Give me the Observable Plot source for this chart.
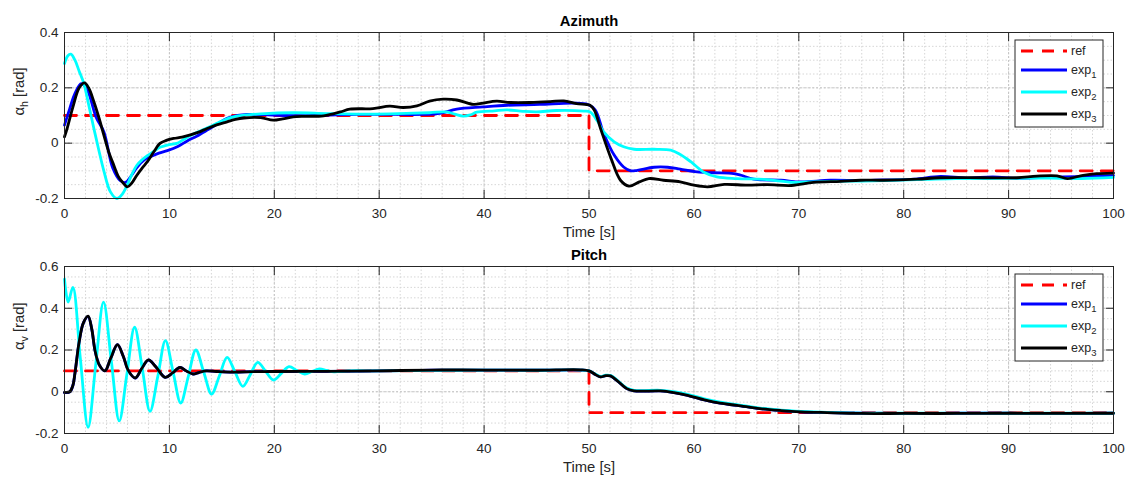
<!DOCTYPE html>
<html><head><meta charset="utf-8">
<script src="https://cdn.jsdelivr.net/npm/d3@7"></script>
<script src="https://cdn.jsdelivr.net/npm/@observablehq/plot@0.6"></script>
<style>
body{margin:0;background:#fff;}
#chart{width:1132px;height:480px;}
#chart svg{display:block;}
</style></head><body><div id="chart"></div>
<script>
// ---------- tick labels / categories ----------
const timeTicks = [0, 10, 20, 30, 40, 50, 60, 70, 80, 90, 100];
const azTicks = [-0.2, 0, 0.2, 0.4];
const pitchTicks = [-0.2, 0, 0.2, 0.4, 0.6];
const seriesNames = ["ref", "exp1", "exp2", "exp3"];
const seriesColors = ["#ff0000", "#0000ff", "#00ffff", "#000000"];

// ---------- Azimuth ----------
const azRef = [[0,0.1],[50,0.1],[50,-0.1],[100,-0.1]];
const azExp1 = [[0,0.065],[0.5,0.125],[1.0,0.18],[1.6,0.215],[2.2,0.19],[3.0,0.095],[3.75,0.041],[4.6,-0.09],[5.3,-0.135],[5.8,-0.142],[6.4,-0.116],[6.9,-0.088],[7.6,-0.06],[8.2,-0.049],[9.0,-0.036],[9.8,-0.027],[10.8,-0.012],[11.7,0.008],[12.6,0.025],[13.6,0.047],[14.6,0.07],[15.5,0.09],[16.5,0.1],[17.4,0.104],[19,0.103],[21,0.1],[24,0.1],[27.9,0.104],[31,0.104],[34.2,0.104],[35.8,0.108],[37.4,0.123],[39.9,0.131],[42.2,0.137],[45.3,0.14],[48.5,0.145],[49.9,0.14],[50.6,0.12],[51.4,0.035],[52.4,-0.043],[53.3,-0.086],[54.0,-0.1],[54.6,-0.098],[56.2,-0.087],[57.5,-0.087],[58.7,-0.094],[60.3,-0.104],[61.9,-0.107],[63.8,-0.11],[64.5,-0.116],[65.7,-0.13],[68.3,-0.134],[70.2,-0.14],[73,-0.134],[75.9,-0.135],[78,-0.133],[81,-0.13],[83.5,-0.12],[86,-0.126],[88.5,-0.122],[91,-0.127],[94,-0.123],[97,-0.12],[100,-0.117]];
const azExp2 = [[0,0.288],[0.3,0.315],[0.6,0.322],[1.0,0.3],[1.4,0.26],[1.84,0.216],[2.3,0.14],[2.8,0.053],[3.3,-0.03],[3.75,-0.1],[4.38,-0.176],[5.0,-0.2],[5.5,-0.185],[5.97,-0.152],[6.4,-0.115],[6.9,-0.08],[7.4,-0.06],[7.9,-0.045],[8.5,-0.03],[9.1,-0.015],[10,-0.005],[10.7,-0.001],[11.3,0.012],[12,0.028],[13,0.045],[13.9,0.06],[14.7,0.075],[15.5,0.088],[16.3,0.097],[17.1,0.101],[18.7,0.106],[21.8,0.11],[25,0.107],[28,0.105],[31,0.106],[34.8,0.11],[36.4,0.113],[37.2,0.105],[38,0.098],[38.7,0.102],[39.3,0.112],[41,0.117],[42.2,0.12],[43.7,0.115],[45,0.113],[46.9,0.118],[49.5,0.116],[50.1,0.113],[50.8,0.08],[51.4,0.041],[52.4,0.005],[53.3,-0.013],[54.3,-0.022],[56.2,-0.022],[57.8,-0.025],[58.7,-0.041],[59.7,-0.067],[61,-0.106],[62.2,-0.122],[64.1,-0.128],[66.7,-0.131],[69.5,-0.142],[71,-0.14],[73,-0.138],[76,-0.137],[79,-0.134],[82,-0.131],[85,-0.128],[88,-0.128],[91,-0.127],[94,-0.126],[97,-0.128],[100,-0.124]];
const azExp3 = [[0,0.023],[0.25,0.053],[0.8,0.13],[1.4,0.2],[1.9,0.218],[2.3,0.2],[2.8,0.15],[3.3,0.09],[3.75,0.029],[4.2,-0.03],[4.7,-0.08],[5.1,-0.118],[5.5,-0.14],[6.0,-0.158],[6.4,-0.145],[6.9,-0.116],[7.4,-0.09],[7.9,-0.067],[8.5,-0.032],[9.1,-0.001],[9.7,0.01],[10.4,0.017],[11.2,0.022],[12,0.03],[12.8,0.04],[13.6,0.053],[14.5,0.066],[15.5,0.077],[16.3,0.086],[17.1,0.091],[18.7,0.092],[19.9,0.083],[20.8,0.088],[21.8,0.095],[23,0.097],[24.7,0.099],[26.3,0.113],[27.2,0.123],[29.4,0.125],[31,0.134],[32.3,0.129],[33.6,0.135],[34.8,0.152],[36.1,0.159],[37.4,0.156],[39,0.14],[39.9,0.145],[41.2,0.152],[42.5,0.147],[44.4,0.147],[46.3,0.15],[47.6,0.153],[48.8,0.143],[50.1,0.137],[50.5,0.12],[51.1,0.053],[52.1,-0.055],[53,-0.134],[53.8,-0.155],[54.8,-0.14],[55.7,-0.128],[57.1,-0.134],[58.7,-0.14],[60,-0.152],[61.3,-0.158],[62.9,-0.149],[65.1,-0.152],[67,-0.15],[69.3,-0.153],[71.4,-0.142],[74,-0.138],[75.9,-0.134],[78.1,-0.134],[81.3,-0.13],[83.5,-0.125],[87.6,-0.125],[90.8,-0.125],[92.7,-0.119],[94.6,-0.118],[95.6,-0.128],[97.1,-0.116],[98.4,-0.11],[100,-0.108]];

// ---------- Pitch ----------
const pitchRef = [[0,0.1],[50,0.1],[50,-0.1],[100,-0.1]];
const pitchExp1 = [[0,-0.004],[0.5,-0.001],[0.8,0.03],[1.0,0.09],[1.4,0.24],[1.8,0.33],[2.25,0.36],[2.6,0.3],[2.9,0.2],[3.3,0.13],[3.85,0.1],[4.4,0.16],[5.05,0.226],[5.6,0.17],[6.1,0.1],[6.75,0.065],[7.35,0.11],[8.0,0.152],[8.7,0.12],[9.6,0.069],[10.3,0.09],[11.0,0.117],[11.6,0.1],[12.25,0.085],[12.8,0.092],[13.5,0.1],[14.5,0.097],[16,0.094],[18,0.096],[20,0.097],[25,0.098],[30,0.1],[35,0.103],[40,0.104],[45,0.103],[49.2,0.104],[50,0.1],[50.6,0.083],[51.1,0.071],[51.6,0.077],[52.05,0.076],[52.7,0.052],[53.6,0.015],[54.3,0.004],[56.8,0.004],[58.1,-0.004],[59.4,-0.017],[61,-0.039],[62.5,-0.055],[64.1,-0.065],[66.3,-0.081],[68.3,-0.09],[70.2,-0.096],[72.7,-0.1],[75.9,-0.103],[80,-0.104],[85,-0.103],[90,-0.103],[95,-0.104],[100,-0.103]];
const pitchExp2 = [[0,0.54],[0.35,0.43],[0.8,0.5],[1.5,0.165],[2.25,-0.17],[2.98,0.13],[3.72,0.429],[4.47,0.145],[5.22,-0.14],[5.95,0.085],[6.68,0.309],[7.42,0.11],[8.15,-0.094],[8.9,0.075],[9.62,0.245],[10.35,0.095],[11.08,-0.054],[11.8,0.073],[12.52,0.2],[13.27,0.095],[14.02,-0.011],[14.77,0.077],[15.5,0.165],[16.25,0.095],[17.0,0.026],[17.72,0.083],[18.42,0.141],[19.17,0.098],[19.92,0.056],[20.67,0.088],[21.4,0.12],[22.15,0.102],[22.9,0.085],[23.6,0.097],[24.3,0.109],[25,0.102],[25.7,0.095],[27,0.1],[30,0.1],[35,0.102],[40,0.104],[45,0.103],[49.2,0.104],[50,0.1],[50.6,0.085],[51.1,0.073],[51.6,0.079],[52.1,0.077],[52.7,0.055],[53.6,0.018],[54.3,0.007],[56.8,0.007],[58.1,0.0],[59.4,-0.012],[61,-0.034],[62.5,-0.05],[64.1,-0.062],[66.3,-0.078],[68.3,-0.088],[70.2,-0.094],[72.7,-0.099],[76,-0.102],[80,-0.103],[85,-0.102],[90,-0.103],[95,-0.103],[100,-0.103]];
const pitchExp3 = [[0,-0.003],[0.5,0.0],[0.8,0.03],[1.0,0.09],[1.4,0.24],[1.8,0.33],[2.25,0.362],[2.6,0.3],[2.9,0.2],[3.3,0.13],[3.85,0.1],[4.4,0.16],[5.05,0.226],[5.6,0.17],[6.1,0.1],[6.75,0.066],[7.35,0.11],[8.0,0.153],[8.7,0.12],[9.6,0.069],[10.3,0.09],[11.0,0.117],[11.6,0.1],[12.25,0.085],[12.8,0.092],[13.5,0.1],[14.5,0.097],[16,0.094],[18,0.096],[20,0.097],[25,0.098],[30,0.1],[35,0.104],[40,0.104],[45,0.103],[49.2,0.105],[50,0.1],[50.6,0.083],[51.1,0.071],[51.6,0.077],[52.05,0.076],[52.7,0.052],[53.6,0.015],[54.3,0.004],[56.8,0.004],[58.1,-0.004],[59.4,-0.017],[61,-0.039],[62.5,-0.055],[64.1,-0.065],[66.3,-0.081],[68.3,-0.09],[70.2,-0.096],[72.7,-0.1],[75.9,-0.104],[80,-0.104],[85,-0.104],[90,-0.103],[95,-0.104],[100,-0.103]];

const FONT = "'Liberation Sans', Arial, Helvetica, sans-serif";
const AXC = "#262626";

function panel({title, ylab, ysub, yTicks, yDomain, ref, exps, mt, mb}) {
  const W = 1132, H = 240, ml = 64, mr = 19;
  const minorX = d3.range(0, 101, 2);
  const minorY = d3.range(Math.round(yDomain[0]*100), Math.round(yDomain[1]*100) + 1, 5).map(v => v/100);
  const noText = () => "";
  const lineMarks = exps.map((s, i) =>
    Plot.line(s, {x: d => d[0], y: d => d[1], stroke: seriesColors[i + 1], strokeWidth: 2.8, curve: "catmull-rom"}));
  const node = Plot.plot({
    width: W, height: H, marginLeft: ml, marginRight: mr, marginTop: mt, marginBottom: mb,
    style: {fontFamily: FONT, fontSize: "13.5px", color: AXC, background: "#fff", overflow: "visible"},
    x: {domain: [0, 100]},
    y: {domain: yDomain},
    marks: [
      Plot.gridX(minorX, {stroke: "#d6d6d6", strokeOpacity: 1, strokeDasharray: "1.5,2"}),
      Plot.gridY(minorY, {stroke: "#d6d6d6", strokeOpacity: 1, strokeDasharray: "1.5,2"}),
      Plot.gridX(timeTicks, {stroke: "#c4c4c4", strokeOpacity: 1, strokeDasharray: "2,2"}),
      Plot.gridY(yTicks, {stroke: "#c4c4c4", strokeOpacity: 1, strokeDasharray: "2,2"}),
      Plot.line(ref, {x: d => d[0], y: d => d[1], stroke: seriesColors[0], strokeWidth: 2.8, strokeDasharray: "12,9"}),
      ...lineMarks,
      Plot.frame({stroke: AXC, strokeWidth: 1}),
      Plot.axisX(timeTicks, {anchor: "bottom", tickSize: 0, tickPadding: 10, label: null, fontSize: 13.5, tickFormat: d => String(d)}),
      Plot.axisX(timeTicks, {anchor: "bottom", tickSize: 8, dy: -8, label: null, tickFormat: noText}),
      Plot.axisX(timeTicks, {anchor: "top", tickSize: 8, dy: 8, label: null, tickFormat: noText}),
      Plot.axisY(yTicks, {anchor: "left", tickSize: 0, tickPadding: 6, label: null, fontSize: 13.5, tickFormat: d => String(d)}),
      Plot.axisY(yTicks, {anchor: "left", tickSize: 8, dx: 8, label: null, tickFormat: noText}),
      Plot.axisY(yTicks, {anchor: "right", tickSize: 8, dx: -8, label: null, tickFormat: noText}),
      Plot.text([title], {frameAnchor: "top", lineAnchor: "middle", dy: -11.5, text: d => d, fontWeight: "bold", fontSize: 14.8, fill: "#000"}),
      Plot.text(["Time [s]"], {frameAnchor: "bottom", lineAnchor: "middle", dy: 34, text: d => d, fontSize: 14.8, fill: AXC}),
      Plot.text([ylab], {frameAnchor: "left", lineAnchor: "middle", dx: -45, rotate: -90, text: d => d, fontSize: 14.8, fill: AXC})
    ]
  });
  // subscript for y label
  d3.select(node).selectAll("text").filter(function() { return this.textContent === ylab; }).each(function() {
    const yl = d3.select(this);
    yl.text(null);
    yl.append("tspan").text("α");
    yl.append("tspan").attr("dy", 4).attr("font-size", 10.5).text(ysub);
    yl.append("tspan").attr("dy", -4).text(" [rad]");
  });

  // legend box
  const lx = 1015, ly = mt + 8, lw = 88, lh = 87;
  const g = d3.select(node).append("g").attr("font-family", FONT).attr("font-size", 12.5)
    .attr("fill", AXC).attr("text-anchor", "start");
  g.append("rect").attr("x", lx).attr("y", ly).attr("width", lw).attr("height", lh)
    .attr("fill", "#fff").attr("stroke", AXC).attr("stroke-width", 1);
  const rowY = [11, 30, 52, 74];
  seriesNames.forEach((name, i) => {
    const y = ly + rowY[i];
    g.append("line").attr("x1", lx + 6).attr("x2", lx + 52).attr("y1", y).attr("y2", y)
      .attr("stroke", seriesColors[i]).attr("stroke-width", 2.8)
      .attr("stroke-dasharray", i === 0 ? "12,9" : null);
    const t = g.append("text").attr("x", lx + 56).attr("y", y).attr("dy", "0.35em").attr("text-anchor", "start");
    if (i === 0) t.text(name);
    else {
      t.append("tspan").text(name.slice(0, 3));
      t.append("tspan").attr("dy", 4).attr("font-size", 9.5).text(name.slice(3));
    }
  });
  return node;
}

const root = document.getElementById("chart");
root.appendChild(panel({title: "Azimuth", ylab: "α_h", ysub: "h", yTicks: azTicks, yDomain: [-0.2, 0.4],
  ref: azRef, exps: [azExp1, azExp2, azExp3], mt: 32, mb: 42}));
root.appendChild(panel({title: "Pitch", ylab: "α_v", ysub: "v", yTicks: pitchTicks, yDomain: [-0.2, 0.6],
  ref: pitchRef, exps: [pitchExp1, pitchExp2, pitchExp3], mt: 26, mb: 47}));
</script></body></html>
